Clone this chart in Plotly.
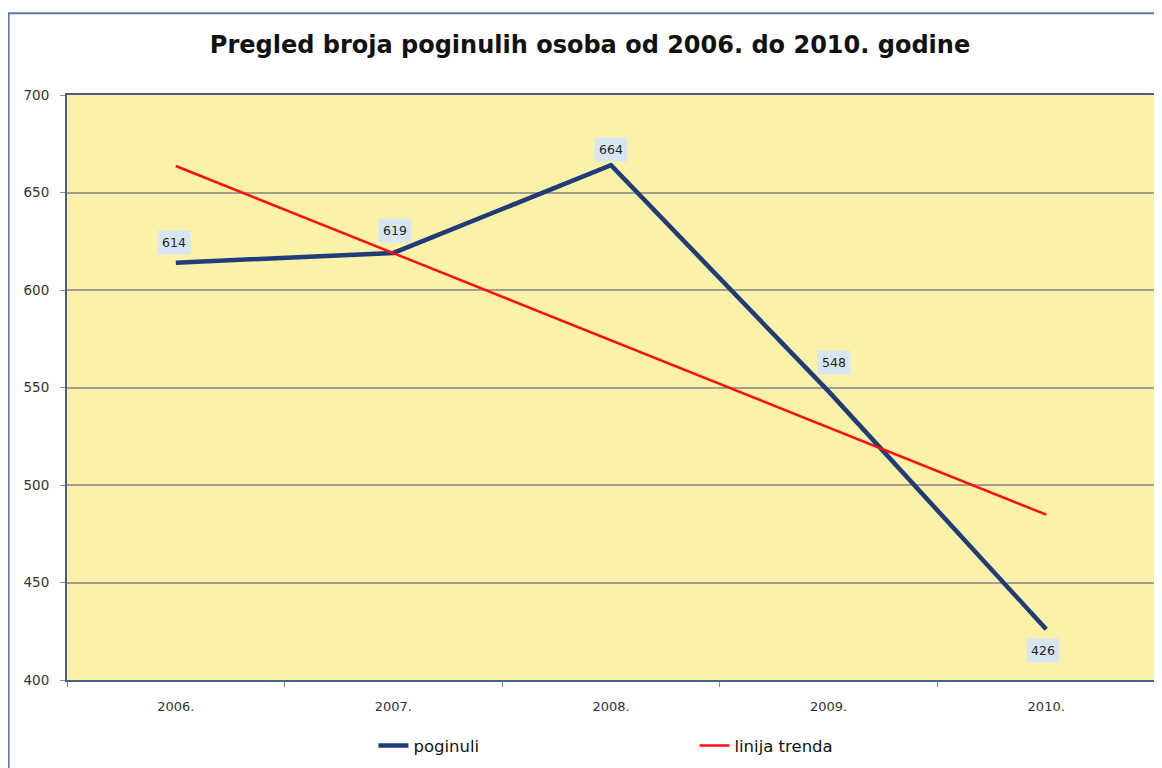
import plotly.graph_objects as go

years = ["2006.", "2007.", "2008.", "2009.", "2010."]
poginuli = [614, 619, 664, 548, 426]
trend = [663.6, 618.9, 574.2, 529.5, 484.8]
label_yshift = [20, 22, 16, 29, -21]
label_xshift = [-2, 2, 0, 5, -3]
y_ticks = [400, 450, 500, 550, 600, 650, 700]

# page body has an 8px margin; work in reference-image pixels and offset
OFF = 8
W, H = 1162 - OFF, 768 - OFF
PL, PR, PT, PB = 67, 1157, 95, 682  # plot area in reference pixels
L, R, T, B = PL - OFF, (1162 - PR), PT - OFF, (768 - PB)
pw, ph = PR - PL, PB - PT

def px(x):
    return (x - PL) / pw

def py(y):
    return (PB - y) / ph

fig = go.Figure()
fig.add_trace(go.Scatter(x=years, y=poginuli, mode="lines", name="poginuli",
                         line=dict(color="#1f3c78", width=4.5)))
fig.add_trace(go.Scatter(x=years, y=trend, mode="lines", name="linija trenda",
                         line=dict(color="#ff0f0f", width=2.5)))

for i, (v, ys, xs) in enumerate(zip(poginuli, label_yshift, label_xshift)):
    fig.add_annotation(x=i, y=v, xref="x", yref="y", text=str(v), showarrow=False,
                       yshift=ys, xshift=xs, bgcolor="#d8e6f2", borderpad=4,
                       font=dict(family="DejaVu Sans", size=12.5, color="#222222"))

fig.add_shape(type="rect", xref="paper", yref="paper",
              x0=px(8.5), x1=px(1168), y0=py(780), y1=py(13),
              line=dict(color="#5b7aa6", width=2), fillcolor="rgba(0,0,0,0)", layer="below")

fig.update_layout(
    width=W, height=H,
    margin=dict(l=L, r=R, t=T, b=B),
    paper_bgcolor="white",
    plot_bgcolor="#faf2a8",
    title=dict(text="<b>Pregled broja poginulih osoba od 2006. do 2010. godine</b>",
               x=(590 - OFF) / W, xanchor="center", y=1 - (45 - OFF) / H, yanchor="middle",
               font=dict(family="DejaVu Sans", size=24, color="#111111")),
    showlegend=True,
    legend=dict(orientation="h", x=px(374), xanchor="left", y=py(748), yanchor="middle",
                entrywidth=276, entrywidthmode="pixels",
                font=dict(family="DejaVu Sans", size=16.5, color="#111111"),
                bgcolor="rgba(0,0,0,0)"),
    xaxis=dict(type="category", tickson="boundaries", ticks="outside", ticklen=5,
               tickcolor="#8a8a8a", showgrid=False, showline=True, linecolor="#4a5f88",
               linewidth=2, mirror=True, ticklabelstandoff=13,
               tickfont=dict(family="DejaVu Sans", size=13, color="#333333"),
               range=[-0.5, 4.5]),
    yaxis=dict(range=[400, 700], tickvals=y_ticks, ticks="outside", ticklen=5,
               tickcolor="#8a8a8a", showgrid=True, gridcolor="#a49e8e", gridwidth=1.5,
               showline=True, linecolor="#4a5f88", linewidth=2, mirror=True,
               zeroline=False, ticklabelstandoff=8,
               tickfont=dict(family="DejaVu Sans", size=13.5, color="#333333")),
)

fig.write_html("out.html")
